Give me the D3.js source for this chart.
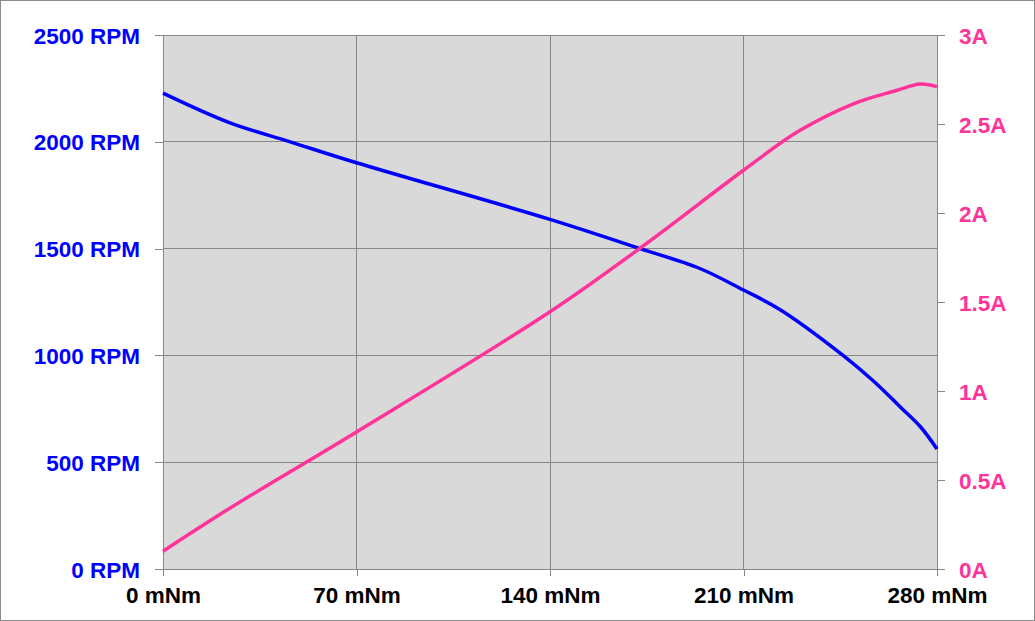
<!DOCTYPE html>
<html>
<head>
<meta charset="utf-8">
<script src="https://cdn.jsdelivr.net/npm/d3@7"></script>
<style>
  html, body { margin: 0; padding: 0; background: #ffffff; }
  svg { display: block; }
</style>
</head>
<body>
<svg id="chart" width="1035" height="621"></svg>
<script>
// ---- data ----
const torqueTicks = [0, 70, 140, 210, 280];
const rpmTicks = [0, 500, 1000, 1500, 2000, 2500];
const ampTicks = [0, 0.5, 1, 1.5, 2, 2.5, 3];

const speedTorque = [0, 24, 46, 70, 140, 172.6, 194, 210, 223, 246, 257, 266.6, 274, 280];
const speedRpm    = [2228, 2090, 2000, 1902, 1637, 1500, 1408, 1306, 1216, 1000, 880, 760, 666, 562];

const currentTorque = [0, 24, 70, 140, 175, 210, 230, 250, 265, 274, 280];
const currentAmp    = [0.10, 0.34, 0.77, 1.445, 1.83, 2.24, 2.46, 2.615, 2.687, 2.725, 2.71];

// ---- layout ----
const svg = d3.select("#chart");
const pLeft = 163, pRight = 937, pTop = 35, pBottom = 569;
const blue = "#0000ff", pink = "#ff3399", grid = "#878787";
const fontSize = "22.5px";

const x = d3.scaleLinear().domain([0, 280]).range([pLeft, pRight]);
const yL = d3.scaleLinear().domain([0, 2500]).range([pBottom, pTop]);
const yR = d3.scaleLinear().domain([0, 3]).range([pBottom, pTop]);

// outer border
svg.append("rect").attr("x", 0.5).attr("y", 0.5).attr("width", 1034).attr("height", 620)
  .attr("fill", "#ffffff").attr("stroke", "#8c8c8c").attr("stroke-width", 1);

// plot background
svg.append("rect").attr("x", pLeft).attr("y", pTop).attr("width", pRight - pLeft).attr("height", pBottom - pTop)
  .attr("fill", "#d9d9d9");

// gridlines
const g = svg.append("g").attr("stroke", grid).attr("stroke-width", 1).attr("shape-rendering", "crispEdges");
g.selectAll("line.v").data(torqueTicks).join("line").attr("class", "v")
  .attr("x1", d => x(d)).attr("x2", d => x(d)).attr("y1", pTop).attr("y2", pBottom);
g.selectAll("line.h").data(rpmTicks).join("line").attr("class", "h")
  .attr("x1", pLeft).attr("x2", pRight).attr("y1", d => yL(d)).attr("y2", d => yL(d));

// axes
function styleAxis(sel, color) {
  sel.select(".domain").attr("stroke", grid).attr("shape-rendering", "crispEdges");
  sel.selectAll(".tick line").attr("stroke", grid).attr("shape-rendering", "crispEdges");
  sel.selectAll("text").attr("fill", color).style("font-family", "'Liberation Sans', Arial, sans-serif")
    .style("font-weight", "bold").style("font-size", fontSize);
}

const axL = svg.append("g").attr("transform", `translate(${pLeft},0)`)
  .call(d3.axisLeft(yL).tickValues(rpmTicks).tickSize(8).tickSizeOuter(0).tickPadding(15).tickFormat(d => d + " RPM"));
styleAxis(axL, blue);
axL.selectAll("text").attr("dy", "0.36em");

const axR = svg.append("g").attr("transform", `translate(${pRight},0)`)
  .call(d3.axisRight(yR).tickValues(ampTicks).tickSize(8).tickSizeOuter(0).tickPadding(14).tickFormat(d => d + "A"));
styleAxis(axR, pink);
axR.selectAll("text").attr("dy", "0.36em");

const axB = svg.append("g").attr("transform", `translate(0,${pBottom})`)
  .call(d3.axisBottom(x).tickValues(torqueTicks).tickSize(7).tickSizeOuter(0).tickPadding(11).tickFormat(d => d + " mNm"));
styleAxis(axB, "#000000");

// lines
const speedData = speedTorque.map((t, i) => [t, speedRpm[i]]);
const currentData = currentTorque.map((t, i) => [t, currentAmp[i]]);

svg.append("path").datum(speedData)
  .attr("fill", "none").attr("stroke", blue).attr("stroke-width", 3.5).attr("stroke-linejoin", "round")
  .attr("d", d3.line().x(d => x(d[0])).y(d => yL(d[1])).curve(d3.curveCatmullRom.alpha(0.5)));

svg.append("path").datum(currentData)
  .attr("fill", "none").attr("stroke", pink).attr("stroke-width", 3.5).attr("stroke-linejoin", "round")
  .attr("d", d3.line().x(d => x(d[0])).y(d => yR(d[1])).curve(d3.curveCatmullRom.alpha(0.5)));
</script>
</body>
</html>
